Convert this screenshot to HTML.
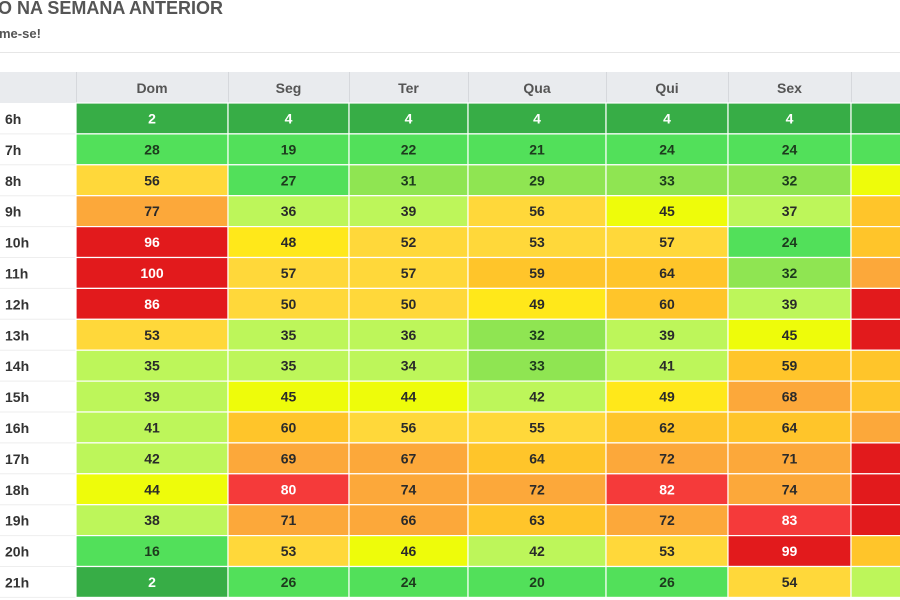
<!DOCTYPE html>
<html><head><meta charset="utf-8"><style>
body{margin:0;width:900px;height:600px;overflow:hidden;background:#fff;font-family:"Liberation Sans",sans-serif}
svg{display:block}
</style></head><body>
<svg id="c" width="900" height="600">
<text x="-2" y="14" font-size="18" font-weight="bold" fill="#555">O NA SEMANA ANTERIOR</text>
<text x="-1" y="38" font-size="13" font-weight="bold" fill="#555">me-se!</text>
<line x1="0" y1="52.5" x2="900" y2="52.5" stroke="#e6e6e6"/>
<g id="g"></g>
</svg>
<script>
const days=["Dom","Seg","Ter","Qua","Qui","Sex","Sab"];
const hours=["6h","7h","8h","9h","10h","11h","12h","13h","14h","15h","16h","17h","18h","19h","20h","21h"];
const dom=[2,28,56,77,96,100,86,53,35,39,41,42,44,38,16,2];
const seg=[4,19,27,36,48,57,50,35,35,45,60,69,80,71,53,26];
const ter=[4,22,31,39,52,57,50,36,34,44,56,67,74,66,46,24];
const qua=[4,21,29,56,53,59,49,32,33,42,55,64,72,63,42,20];
const qui=[4,24,33,45,57,64,60,39,41,49,62,72,82,72,53,26];
const sex=[4,24,32,37,24,32,39,45,59,68,64,71,74,83,99,54];
const sab=[4,24,45,58,64,72,90,90,58,64,72,90,90,90,64,38];
const series=[dom,seg,ter,qua,qui,sex,sab];
const colX=[76,228,349,468,606,728,851,972];
const top0=72,headH=31,rowH=30.9;
function col(v){
 if(v<10)return["#37ad46","#fff"];
 if(v<29)return["#52e05a","#1d3a1d"];
 if(v<34)return["#8fe552","#1d3a1d"];
 if(v<44)return["#bdf65a","#2a2a2a"];
 if(v<47)return["#eefc0a","#2a2a2a"];
 if(v<50)return["#ffe81a","#2a2a2a"];
 if(v<58)return["#ffd83a","#2a2a2a"];
 if(v<66)return["#ffc52a","#2a2a2a"];
 if(v<79)return["#fca83a","#2a2a2a"];
 if(v<85)return["#f53a3a","#fff"];
 return["#e21a1c","#fff"];
}
const g=document.getElementById('g');const NS="http://www.w3.org/2000/svg";
function mk(t,a,txt){const e=document.createElementNS(NS,t);for(const k in a)e.setAttribute(k,a[k]);if(txt!=null)e.textContent=txt;g.appendChild(e);return e;}
const hb=mk('rect',{x:0,y:top0,width:900,height:headH,fill:"#e9ebee"});


days.forEach((d,i)=>{
 const x=colX[i],w=colX[i+1]-x;
 mk('line',{x1:x+0.5,y1:top0,x2:x+0.5,y2:top0+headH,stroke:"#d6d8dc"});
 if(i<6){
 const t=mk('text',{x:x+w/2,y:top0+21,"text-anchor":"middle","font-size":14,"font-weight":"bold",fill:"#555"},d);
 
 
 }
});
hours.forEach((h,r)=>{
 const y=top0+headH+r*rowH;
 const l=mk('text',{x:5,y:y+21,"font-size":14,"font-weight":"bold",fill:"#333"},h);
 
 
 mk('line',{x1:0,y1:y+rowH,x2:76,y2:y+rowH,stroke:"#eee"});
 series.forEach((s,i)=>{
  const x=colX[i],w=colX[i+1]-x,v=s[r],[bg,fg]=col(v);
  const c=mk('rect',{x:x,y:y,width:w,height:rowH,fill:bg,stroke:"#fff","stroke-width":1.2});
  
  
  const t=mk('text',{x:x+w/2,y:y+20.5,"text-anchor":"middle","font-size":14,"font-weight":"bold",fill:fg},v);
  
  
 });
});
</script>
</body></html>
